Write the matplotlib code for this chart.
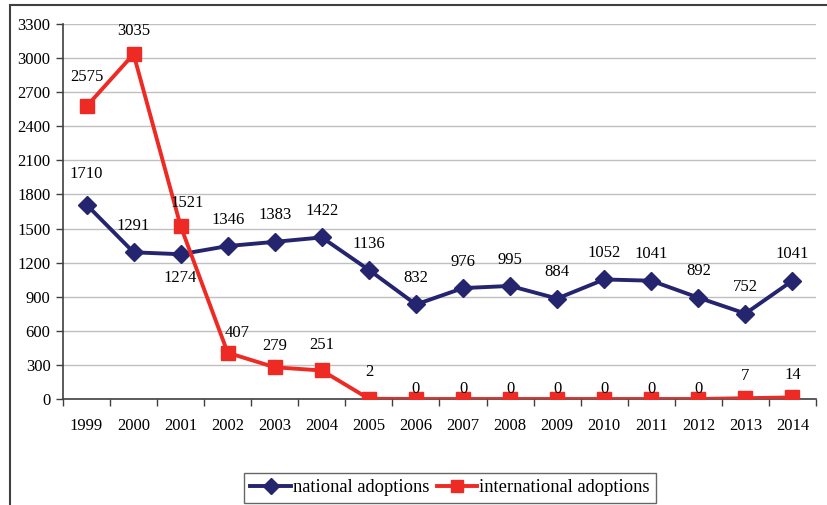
import matplotlib
matplotlib.use("Agg")
import matplotlib.pyplot as plt
from matplotlib.patches import Rectangle
from matplotlib.ticker import MultipleLocator, FixedLocator

years = ["1999", "2000", "2001", "2002", "2003", "2004", "2005", "2006",
         "2007", "2008", "2009", "2010", "2011", "2012", "2013", "2014"]
national = [1710, 1291, 1274, 1346, 1383, 1422, 1136, 832, 976, 995, 884,
            1052, 1041, 892, 752, 1041]
international = [2575, 3035, 1521, 407, 279, 251, 2, 0, 0, 0, 0, 0, 0, 0, 7, 14]

# label offsets (points) -- styling only
nat_off = [(0, 19)] * 16
nat_off[0] = (0, 22)
nat_off[2] = (0, -17)
int_off = [(0, 7.5)] * 16
int_off[0] = (0, 21)
int_off[1] = (0, 16.5)
int_off[2] = (5, 17)
int_off[3] = (7, 14)
int_off[4] = (0, 15)
int_off[5] = (0, 18)
int_off[6] = (0, 19)
int_off[14] = (0, 16)
int_off[15] = (0, 16)

plt.rcParams['font.family'] = ['Liberation Serif', 'DejaVu Serif']
FS = 12

fig = plt.figure(figsize=(8.28, 5.05), dpi=100)
ax = fig.add_axes([63/828, 1-399/505, (816-63)/828, (399-24)/505])

fig.patches.append(Rectangle((10/828, -0.1), 1.2, 1-5/505+0.1, transform=fig.transFigure,
                             fill=False, edgecolor='#404040', linewidth=1.5, zorder=0))

navy = '#24246f'
red = '#ee2a24'
x = list(range(len(years)))
ax.plot(x, national, color=navy, lw=2.8, marker='D', ms=9.5, zorder=3,
        label='national adoptions')
ax.plot(x, international, color=red, lw=2.8, marker='s', ms=9.5, zorder=4,
        label='international adoptions')

for i, v in enumerate(national):
    ax.annotate(str(v), (i, v), xytext=nat_off[i], textcoords='offset points',
                ha='center', va='center', fontsize=FS, zorder=5, annotation_clip=False)
for i, v in enumerate(international):
    ax.annotate(str(v), (i, v), xytext=int_off[i], textcoords='offset points',
                ha='center', va='center', fontsize=FS, zorder=5, annotation_clip=False)

ax.set_xlim(-0.5, len(years) - 0.5)
ax.set_ylim(0, 3300)
ax.yaxis.set_major_locator(MultipleLocator(300))
ax.set_xticks(x)
ax.set_xticklabels(years)
ax.xaxis.set_minor_locator(FixedLocator([i - 0.5 for i in range(len(years) + 1)]))
ax.tick_params(axis='x', which='major', length=0, pad=14, labelsize=FS)
ax.tick_params(axis='x', which='minor', length=5, width=1, color='#404040')
ax.tick_params(axis='y', length=5, width=1, color='#404040', pad=4, labelsize=FS)
ax.grid(axis='y', color='#c0c0c0', lw=1)
ax.set_axisbelow(True)
for s in ['top', 'right']:
    ax.spines[s].set_visible(False)
for s in ['left', 'bottom']:
    ax.spines[s].set_color('#404040')
    ax.spines[s].set_linewidth(1.2)

leg = fig.legend(loc='center', bbox_to_anchor=(450/828, 1-488/505), ncol=2,
                 fontsize=13.3, frameon=True, fancybox=False, edgecolor='#404040',
                 handlelength=2.2, handletextpad=0.1, columnspacing=0.4,
                 borderpad=0.35, borderaxespad=0.3, markerscale=0.9)
leg.get_frame().set_linewidth(1.0)

fig.savefig('out.png', dpi=100)
